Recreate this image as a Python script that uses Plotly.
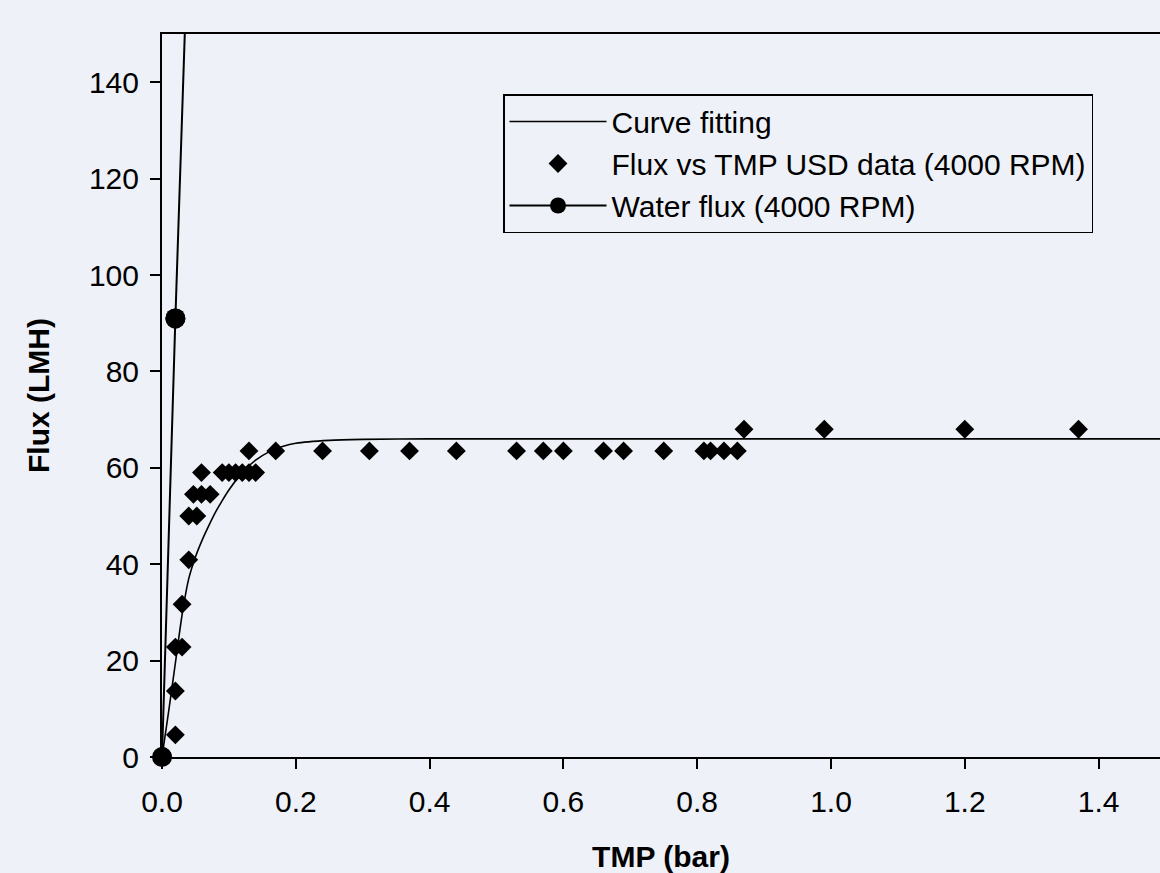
import plotly.graph_objects as go

# ---- data ----
fit_x = [0, 0.01, 0.02, 0.03, 0.04, 0.05, 0.06, 0.07, 0.08, 0.09, 0.10, 0.12,
         0.14, 0.16, 0.18, 0.20, 0.25, 0.30, 0.40, 0.60, 1.0, 1.5]
fit_y = [0, 9.5, 19.5, 29.5, 37, 41.5, 45, 48, 50.8, 53.2, 55.4, 59,
         61.6, 63.3, 64.4, 65.1, 65.7, 65.9, 66, 66, 66, 66]

usd_x = [0, 0.02, 0.02, 0.02, 0.03, 0.03, 0.04, 0.04, 0.052, 0.047, 0.059, 0.072,
         0.059, 0.09, 0.10, 0.11, 0.12, 0.13, 0.14,
         0.13, 0.17, 0.24, 0.31, 0.37, 0.44, 0.53, 0.57, 0.60, 0.66, 0.69, 0.75,
         0.81, 0.82, 0.84, 0.86,
         0.87, 0.99, 1.20, 1.37]
usd_y = [0, 4.6, 13.7, 22.8, 22.8, 31.7, 40.9, 50, 50, 54.5, 54.5, 54.5,
         59, 59, 59, 59, 59, 59, 59,
         63.5, 63.5, 63.5, 63.5, 63.5, 63.5, 63.5, 63.5, 63.5, 63.5, 63.5, 63.5,
         63.5, 63.5, 63.5, 63.5,
         68, 68, 68, 68]

water_x = [0, 0.02, 0.04]
water_y = [0, 91, 175]

x_ticks = [0.0, 0.2, 0.4, 0.6, 0.8, 1.0, 1.2, 1.4]
y_ticks = [0, 20, 40, 60, 80, 100, 120, 140]

BG = "#EEF1F7"
FONT = "Liberation Sans, Arial, sans-serif"

fig = go.Figure()

fig.add_trace(go.Scatter(
    x=fit_x, y=fit_y, mode="lines", name="Curve fitting",
    line=dict(color="black", width=1.6, shape="spline", smoothing=0.6),
))
fig.add_trace(go.Scatter(
    x=usd_x, y=usd_y, mode="markers", name="Flux vs TMP USD data (4000 RPM)",
    marker=dict(symbol="diamond", size=14.5, color="black"),
    cliponaxis=False,
))
fig.add_trace(go.Scatter(
    x=water_x, y=water_y, mode="lines+markers", name="Water flux (4000 RPM)",
    line=dict(color="black", width=2),
    marker=dict(symbol="circle", size=20, color="black"),
))
# unclipped markers for the in-range water points
wx = [x for x, y in zip(water_x, water_y) if y <= 150]
wy = [y for y in water_y if y <= 150]
fig.add_trace(go.Scatter(
    x=wx, y=wy, mode="markers", showlegend=False,
    marker=dict(symbol="circle", size=20, color="black"),
    cliponaxis=False,
))

fig.update_layout(
    width=1160, height=873,
    margin=dict(l=162, r=0, t=34, b=116),
    paper_bgcolor=BG, plot_bgcolor=BG,
    font=dict(family=FONT, size=30, color="black"),
    showlegend=True,
    legend=dict(
        x=0.3417, y=0.917, xanchor="left", yanchor="top",
        bgcolor="rgba(0,0,0,0)", bordercolor="black", borderwidth=1.5,
        font=dict(family=FONT, size=30, color="black"),
        itemwidth=97,
    ),
    xaxis=dict(
        range=[0, 1.4918], tickvals=x_ticks, tickformat=".1f",
        showline=True, linecolor="black", linewidth=2, mirror=True,
        ticks="outside", ticklen=10, tickwidth=2, tickcolor="black",
        showgrid=False, zeroline=False, ticklabelstandoff=7,
        title=dict(text="<b>TMP (bar)</b>", standoff=56,
                   font=dict(family=FONT, size=30)),
        automargin=False,
    ),
    yaxis=dict(
        range=[0, 150], tickvals=y_ticks,
        showline=True, linecolor="black", linewidth=2,
        ticks="outside", ticklen=10, tickwidth=2, tickcolor="black",
        showgrid=False, zeroline=False, ticklabelstandoff=5,
        title=dict(text="<b>Flux (LMH)</b>", standoff=30,
                   font=dict(family=FONT, size=30)),
        automargin=False,
    ),
)

page_js = (
    "document.body.style.margin='0px';"
    "document.body.style.padding='0px';"
    "document.body.style.overflow='hidden';"
    "document.documentElement.style.overflow='hidden';"
    "document.body.style.background='" + BG + "';"
)

fig.write_html("out.html", post_script=page_js,
               config={"displayModeBar": False})
